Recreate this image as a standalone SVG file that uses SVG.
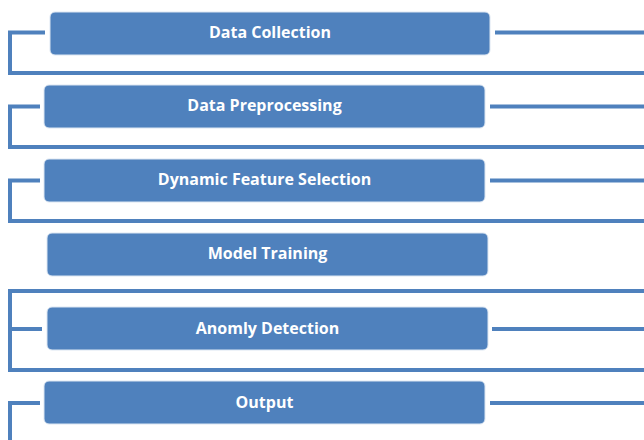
<svg xmlns="http://www.w3.org/2000/svg" width="644" height="440" viewBox="0 0 644 440">
<style>
.box{fill:#4F81BD;stroke:#DCE6F2;stroke-width:1}
.lbl{fill:#FFFFFF;font-family:"Open Sans","Liberation Sans",sans-serif;font-weight:bold;font-size:16px;text-anchor:middle;dominant-baseline:central}
.ln{fill:none;stroke:#4F81BD;stroke-width:4;stroke-linejoin:miter;stroke-linecap:butt}
</style>
<rect width="644" height="440" fill="#FFFFFF"/>
<g id="connectors">
<path class="ln" d="M45,32.5 H10 V73 H644"/>
<path class="ln" d="M495,32.5 H644"/>
<path class="ln" d="M40,106.5 H10 V147 H644"/>
<path class="ln" d="M490,106.5 H644"/>
<path class="ln" d="M40,180.5 H10 V221 H644"/>
<path class="ln" d="M490,180.5 H644"/>
<path class="ln" d="M644,291 H10 V370 H644"/>
<path class="ln" d="M42,329 H10"/>
<path class="ln" d="M492,329 H644"/>
<path class="ln" d="M40,403 H10 V440"/>
<path class="ln" d="M490,403 H644"/>
</g>
<g id="n1"><rect class="box" x="50" y="12" width="440" height="43" rx="5"/><text class="lbl" x="270" y="32">Data Collection</text></g>
<g id="n2"><rect class="box" x="44" y="85" width="441" height="43" rx="5"/><text class="lbl" x="264.5" y="105">Data Preprocessing</text></g>
<g id="n3"><rect class="box" x="44" y="159" width="441" height="43" rx="5"/><text class="lbl" x="264.5" y="179">Dynamic Feature Selection</text></g>
<g id="n4"><rect class="box" x="47" y="233" width="441" height="43" rx="5"/><text class="lbl" x="267.5" y="253">Model Training</text></g>
<g id="n5"><rect class="box" x="47" y="307" width="441" height="43" rx="5"/><text class="lbl" x="267.5" y="327.5">Anomly Detection</text></g>
<g id="n6"><rect class="box" x="44" y="381" width="441" height="43" rx="5"/><text class="lbl" x="264.5" y="401.5">Output</text></g>
</svg>
